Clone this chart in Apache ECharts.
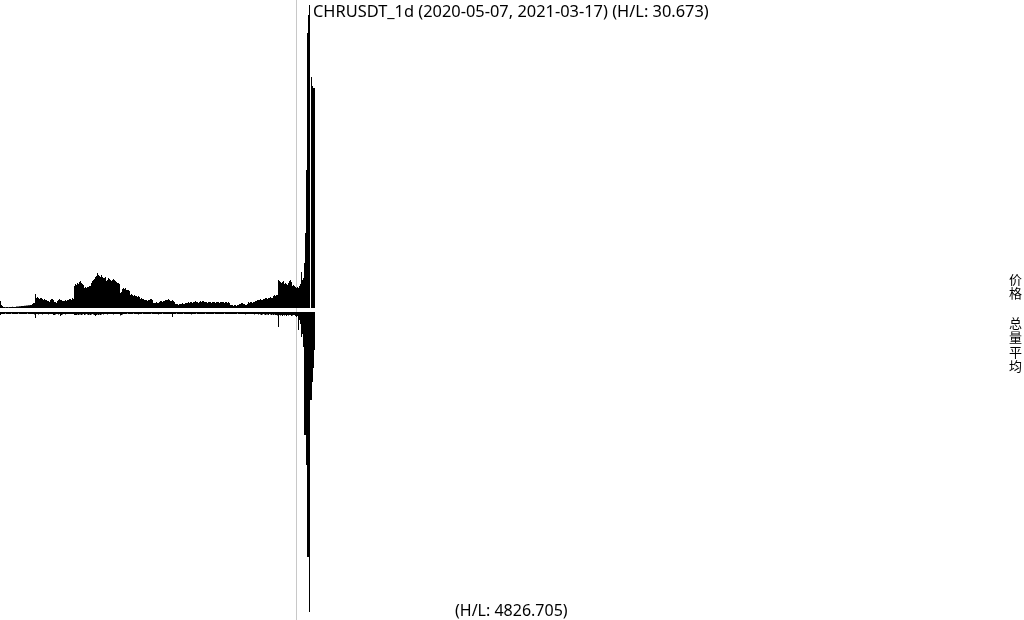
<!DOCTYPE html>
<html>
<head>
<meta charset="utf-8">
<style>
html,body{margin:0;padding:0;background:#fff;}
#chart{width:1024px;height:620px;}
</style>
<script src="https://cdn.jsdelivr.net/npm/echarts@6/dist/echarts.min.js"></script>
</head>
<body>
<div id="chart"></div>
<script>
// Labels
const symbolTitle = 'CHRUSDT_1d (2020-05-07, 2021-03-17) (H/L: 30.673)';
const volumeTitle = '(H/L: 4826.705)';
const priceLabel = ['价', '格'];
const volumeLabel = ['总', '量', '平', '均'];
const startDate = '2020-05-07';
const endDate = '2021-03-17';

// Price (relative height above period low), one value per day
const price = [
  7, 3, 2,
  1, 1, 0.8, 1, 1, 0.8, 1, 1, 1, 1.2, 1, 1, 1,
  1.5, 1.5, 1.6, 1.8, 1.8, 2, 2, 2, 2.2, 2.2, 2.5, 2.5, 2.8, 2.8, 3, 3,
  4, 5, 5,
  14,
  10, 11, 10, 9, 10, 10, 9,
  8, 9, 8, 8, 7,
  7, 6, 8,
  9, 9, 8,
  6, 6, 5, 7,
  8, 9, 8, 8, 7,
  7, 7, 8, 7, 8,
  8, 9, 9, 8, 10, 9,
  22,
  24, 23, 25, 24, 26, 27,
  25, 24, 23,
  20, 21, 20, 21,
  21, 22, 22, 25, 27,
  28, 29, 31, 32,
  35,
  33, 32, 31, 33, 31, 30,
  30, 31,
  27, 28,
  30, 29,
  28, 27, 28, 29,
  28, 27, 26, 25,
  25, 24,
  15, 16,
  19, 20, 19, 20, 18, 18,
  18, 17,
  13, 14, 13, 12, 13, 12,
  12, 11, 12, 11,
  9, 10, 9, 9, 8,
  8, 8, 7, 8, 8,
  9, 9, 8,
  5, 5, 5, 6, 5, 5, 6,
  7, 7, 6, 7, 7,
  8, 8, 8, 9, 8,
  7, 7, 8, 7, 6,
  4, 4, 4, 3, 4, 4, 4, 5, 4, 4,
  5, 5, 5, 6, 5,
  6, 6, 5, 6, 6, 7, 6, 6, 5, 6,
  7, 6, 7, 7, 6,
  6, 6, 5, 6, 6, 6, 5, 6, 6, 6,
  5, 6, 6, 6, 5, 6, 6, 6, 6, 5, 6, 6, 5, 6, 5,
  3, 3, 3, 2, 3, 3, 2, 3,
  3, 4, 4, 5, 5, 4, 4,
  3, 3, 4,
  6, 5, 6, 6, 5, 6, 6,
  7, 7, 8,
  8, 8, 9, 8, 8, 9, 9,
  10, 10, 9, 10, 10, 11, 10, 10,
  12, 13, 12, 13, 13,
  28,
  27, 26, 25, 26, 27,
  24, 25, 24, 23, 25,
  27, 28, 26,
  22, 23, 22, 21,
  20, 21, 20, 22,
  24, 36, 28, 30, 45, 75, 138, 275, 293, 303, 0, 231, 222, 220, 220
];

// Volume (relative to period low), one value per day, drawn downward
const volume = [
  3,
  2, 2, 2, 2, 1.5, 2, 2, 2, 2, 2,
  1.5, 2, 2, 2, 2, 2, 2, 1.5, 2, 2,
  2, 2, 2, 2, 2, 2, 1.5, 2, 2, 2,
  2, 2, 2, 2.5,
  6,
  2, 2, 2.5, 2, 2, 2, 2.5, 2, 2, 2, 2, 2, 2.5, 2, 2, 2, 2,
  3, 3, 2.5,
  2, 2, 2.5, 2,
  4,
  3, 2.5, 2, 2, 2.5,
  2, 2, 2, 2, 2, 2, 2, 2, 3,
  3, 3, 2.5, 3, 2.5,
  2.5, 3, 2.5, 2, 3, 2.5, 2, 2.5, 3, 2.5, 3, 2.5, 2, 2.5, 3,
  4,
  3, 2.5, 3, 2.5, 3, 2.5, 2, 2.5,
  2, 2, 2, 2.5, 2, 2, 2, 2, 2, 2.5, 2, 2, 2, 2, 2, 2,
  3.5, 3, 2.5, 2,
  2, 2, 2, 1.5, 2, 2, 2, 2, 2, 1.5, 2, 2, 2, 2, 2.5, 2, 2, 2, 1.5, 2, 2, 2, 2, 2,
  2, 2, 2, 1.5, 2, 2, 2, 2, 2, 2, 2.5, 2, 2, 2, 1.5, 2, 2, 2, 2, 2, 2, 2, 2, 2,
  5,
  2, 2, 2, 1.5, 2, 2, 2, 2, 2, 2,
  1.5, 2, 2, 2, 2, 2, 2, 2, 2.5, 2,
  2, 2, 2, 1.5, 2, 2, 2, 2, 2, 2,
  2, 2, 1.5, 2, 2, 2, 2, 2, 2, 2,
  2, 1.5, 2, 2, 2, 2, 2, 2, 2, 2,
  2, 1.5, 2, 2, 2, 2, 2, 2, 2, 2,
  2, 2, 2, 2, 1.5, 2, 2, 2, 2, 2,
  2, 2, 2.5, 2, 2, 2, 2, 2, 2, 2,
  2, 2.5, 2, 2, 2, 2.5, 2,
  2.5, 3, 2.5, 2, 2.5, 3, 2.5, 2.5, 3, 2, 2.5, 3, 2.5, 3, 2.5, 3, 3, 3.5,
  15,
  3, 3.5, 3, 4, 3, 3.5, 3, 4, 3, 3.5, 3, 3, 4, 3.5, 3, 3, 4,
  5, 4, 18, 8, 12, 25, 22, 35, 123, 123, 153, 245, 245, 300, 88, 88, 70, 56, 38
];

// Daily categories between the two dates
const days = [];
for (let t = Date.parse(startDate + 'T00:00:00Z'); t <= Date.parse(endDate + 'T00:00:00Z'); t += 86400000) {
  days.push(new Date(t).toISOString().slice(0, 10));
}

const chart = echarts.init(document.getElementById('chart'), null, {renderer: 'canvas'});
const txtFont = '"Noto Sans", sans-serif';
const cjkFont = '"Noto Sans CJK SC", sans-serif';

const graphics = [
  {type: 'line', z: 0, shape: {x1: 296.5, y1: 0, x2: 296.5, y2: 620}, style: {stroke: '#c8c8c8', lineWidth: 1}},
  {type: 'text', z: 10, x: 313, y: 4, style: {text: symbolTitle, font: '16.4px ' + txtFont, fill: '#000', verticalAlign: 'top'}},
  {type: 'text', z: 10, x: 455, y: 603, style: {text: volumeTitle, font: '16px ' + txtFont, fill: '#000', verticalAlign: 'top'}}
];
priceLabel.forEach((c, i) => graphics.push({type: 'text', z: 10, x: 1015.5, y: 279 + i * 14.3,
  style: {text: c, font: '13px ' + cjkFont, fill: '#000', align: 'center', verticalAlign: 'middle'}}));
volumeLabel.forEach((c, i) => graphics.push({type: 'text', z: 10, x: 1015.5, y: 323 + i * 14.3,
  style: {text: c, font: '13px ' + cjkFont, fill: '#000', align: 'center', verticalAlign: 'middle'}}));

chart.setOption({
  animation: false,
  backgroundColor: '#fff',
  grid: [
    {left: 0, top: 5, width: 315, height: 303},
    {left: 0, top: 312, width: 315, height: 301}
  ],
  xAxis: [
    {type: 'category', gridIndex: 0, data: days, show: false, boundaryGap: true},
    {type: 'category', gridIndex: 1, data: days, show: false, boundaryGap: true}
  ],
  yAxis: [
    {type: 'value', gridIndex: 0, min: 0, max: 303, show: false},
    {type: 'value', gridIndex: 1, min: 0, max: 301, inverse: true, show: false}
  ],
  series: [
    {type: 'bar', xAxisIndex: 0, yAxisIndex: 0, data: price, barCategoryGap: '0%', barGap: '0%',
     itemStyle: {color: '#000'}, silent: true},
    {type: 'bar', xAxisIndex: 1, yAxisIndex: 1, data: volume, barCategoryGap: '0%', barGap: '0%',
     itemStyle: {color: '#000'}, silent: true}
  ],
  graphic: graphics
});
</script>
</body>
</html>
